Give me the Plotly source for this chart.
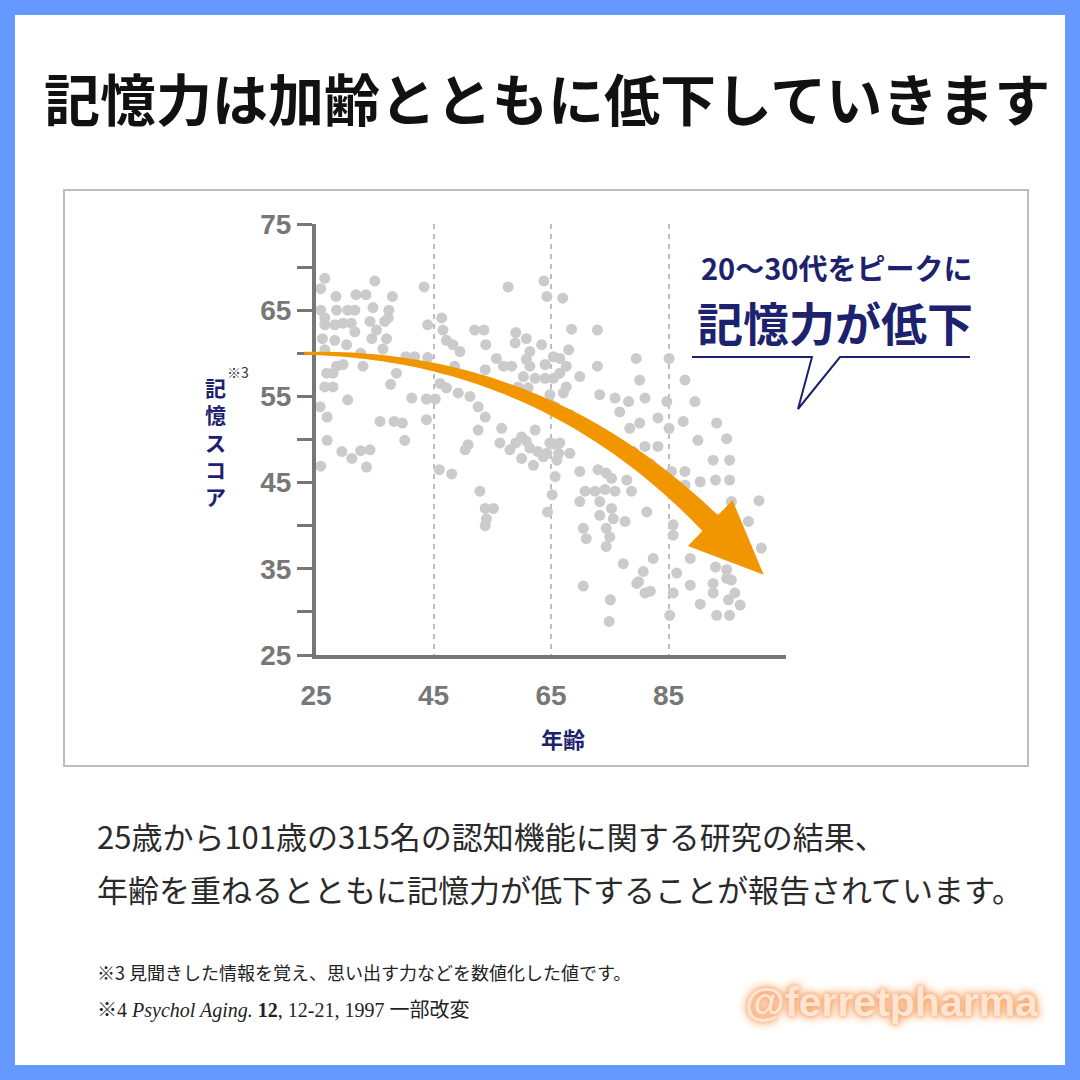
import numpy as np
import plotly.graph_objects as go

# ---------------- data ----------------
ages = [
    26.5, 25.8, 35.0, 43.4, 28.4, 31.8, 33.5, 38.0, 25.8, 28.5, 30.4, 31.6, 34.7, 37.4,
    26.5, 37.3, 26.5, 28.2, 29.6, 31.0, 34.2, 36.7, 44.0, 46.4, 31.6, 35.3, 46.6, 52.0,
    26.1, 28.2, 30.2, 34.5, 37.0, 47.2, 48.3, 26.5, 36.4, 49.5, 32.6, 40.3, 41.8, 44.0,
    29.6, 28.5, 33.0, 26.8, 27.9, 38.7, 48.6, 37.7, 26.5, 27.9, 46.1, 47.2, 49.2, 51.2,
    25.7, 30.4, 41.3, 43.8, 45.3, 52.6, 26.9, 35.9, 38.3, 39.7, 43.8, 52.6, 26.9, 40.1,
    29.4, 32.6, 34.2, 31.1, 50.4, 50.9, 33.6, 25.8, 46.0, 48.1, 52.9,
    57.7, 63.8, 64.3, 67.0, 53.6, 59.0, 60.8, 68.5, 72.9, 53.9, 58.9, 63.4, 68.0, 61.4,
    55.7, 60.8, 65.4, 66.5, 56.9, 58.3, 61.4, 64.0, 67.6, 72.9, 79.5, 53.8, 66.5, 60.3,
    62.3, 64.0, 65.4, 69.9, 80.1, 59.4, 61.1, 67.6, 64.8, 67.1, 60.8, 73.3, 75.9, 78.2,
    64.8, 65.7, 76.7, 53.8, 68.2, 80.1, 56.6, 62.3, 78.4, 60.0, 73.3, 56.3, 59.0, 60.8,
    64.8, 66.5, 58.0, 62.8, 64.3, 68.2, 79.0,
    60.0, 61.4, 62.0, 63.7, 65.4, 66.3, 66.0, 65.7, 69.9, 73.0, 74.4, 75.3, 77.9, 78.7,
    70.8, 72.5, 74.2, 75.9, 65.2, 69.9, 73.3, 75.3, 53.8, 55.2, 64.4, 73.3, 75.6, 77.6,
    54.0, 53.8, 70.5, 74.4, 71.0, 75.0, 74.4, 77.3, 79.6, 70.5, 75.1, 74.9,
    85.1, 87.8, 81.0, 84.7, 89.5, 83.2, 85.1, 87.5, 93.2, 90.0, 94.9, 81.0, 83.2, 92.6,
    95.4, 81.9, 85.5, 87.8, 90.4, 93.0, 95.4,
    87.8, 81.3, 85.8, 85.8, 93.8, 95.7, 98.6, 100.4, 100.8, 82.4, 88.7, 93.0, 94.9, 80.7,
    86.4, 94.9, 79.9, 88.7, 92.6, 95.7, 81.9, 81.0, 85.8, 92.6, 96.3, 95.2, 97.2, 90.4,
    85.2, 93.2, 95.4,
]
scores = [
    68.7, 67.5, 68.4, 67.7, 66.6, 66.8, 66.8, 66.6, 65.0, 65.0, 65.0, 65.0, 65.3, 65.0,
    64.1, 64.1, 63.3, 63.3, 63.5, 63.5, 63.7, 63.7, 63.3, 64.1, 62.5, 62.7, 62.7, 62.7,
    61.7, 61.5, 61.0, 61.7, 61.7, 61.5, 61.0, 60.4, 60.5, 60.2, 60.0, 59.6, 59.6, 59.5,
    58.7, 58.5, 58.5, 57.7, 57.7, 57.7, 58.5, 56.4, 56.1, 56.1, 56.5, 56.0, 55.4, 55.0,
    53.8, 54.6, 54.8, 54.7, 54.7, 53.8, 52.6, 52.1, 52.1, 51.9, 52.3, 51.1, 49.9, 49.9,
    48.6, 48.7, 48.8, 47.8, 48.8, 49.4, 46.8, 46.9, 46.5, 46.0, 44.0,
    67.7, 68.4, 66.6, 66.4, 62.7, 62.4, 61.7, 62.8, 62.7, 61.0, 61.2, 61.0, 60.4, 60.2,
    59.4, 59.3, 59.6, 59.4, 58.5, 58.5, 58.5, 58.7, 58.5, 58.5, 59.4, 58.1, 57.7, 57.3,
    57.1, 57.1, 57.1, 57.3, 56.9, 56.1, 56.0, 56.1, 55.2, 55.4, 55.0, 55.2, 54.8, 54.4,
    54.2, 53.8, 53.2, 52.6, 52.9, 51.9, 51.3, 51.1, 51.3, 50.3, 50.7, 49.6, 49.6, 49.8,
    49.6, 49.6, 48.8, 48.6, 48.4, 48.4, 48.6,
    47.8, 49.0, 47.0, 48.0, 49.5, 48.4, 47.6, 45.7, 46.3, 46.5, 46.1, 45.5, 45.3, 44.0,
    44.0, 44.0, 44.2, 44.0, 43.6, 42.8, 42.8, 42.0, 42.0, 42.0, 41.6, 41.2, 40.8, 40.5,
    40.8, 40.0, 39.7, 39.7, 38.5, 38.7, 37.6, 35.6, 33.3, 33.0, 31.4, 28.9,
    59.4, 56.9, 54.8, 54.4, 54.4, 52.5, 51.3, 52.1, 51.9, 49.9, 50.1, 49.2, 49.2, 47.6,
    47.6, 47.2, 46.3, 46.3, 45.1, 45.3, 45.3,
    44.7, 41.6, 40.1, 38.9, 40.8, 42.8, 40.5, 42.9, 37.4, 36.2, 36.2, 35.2, 34.9, 34.7,
    34.5, 33.9, 33.5, 33.1, 33.3, 33.7, 32.4, 32.2, 32.2, 32.2, 32.2, 31.4, 30.8, 30.9,
    29.6, 29.6, 29.6,
]

x_tickvals = [25, 45, 65, 85, 105]
x_ticktext = ["25", "45", "65", "85", ""]
y_tickvals = [25, 30, 35, 40, 45, 50, 55, 60, 65, 70, 75]
y_ticktext = ["25", "", "35", "", "45", "", "55", "", "65", "", "75"]

title_text = "記憶力は加齢とともに低下していきます"
x_title = "年齢"
y_title = "記憶スコア"
callout_sub = "20〜30代をピークに"
callout_main = "記憶力が低下"
desc_lines = [
    "25歳から101歳の315名の認知機能に関する研究の結果、",
    "年齢を重ねるとともに記憶力が低下することが報告されています。",
]
note1 = "※3 見聞きした情報を覚え、思い出す力などを数値化した値です。"
note2 = "※4 <i>Psychol Aging.</i> <b>12</b>, 12-21, 1997 一部改変"
watermark = "@ferretpharma"

# trend-arrow geometry (data units)
arrow_start = (23.0, 60.0)
arrow_ctrl = (63.2, 60.0)
arrow_base = (92.1, 40.3)
arrow_tip = (101.2, 34.3)

# ---------------- layout constants ----------------
W = H = 1080
X_RANGE = [25, 105]
Y_RANGE = [25, 75]
PX_L, PX_R = 316, 786
PX_B, PX_T = 655, 224

NAVY = "#1d226e"
GRAY_AX = "#777777"
DOT = "#cbcbcb"
ORANGE = "#f29600"
CJK = "Noto Sans CJK JP"


def d2px(x, y):
    px = PX_L + (x - X_RANGE[0]) / (X_RANGE[1] - X_RANGE[0]) * (PX_R - PX_L)
    py = PX_B - (y - Y_RANGE[0]) / (Y_RANGE[1] - Y_RANGE[0]) * (PX_B - PX_T)
    return np.array([px, py])


def px2paper(p):
    return p[0] / W, 1 - p[1] / H


# build arrow polygon in pixel space
S = d2px(*arrow_start)
C = d2px(*arrow_ctrl)
B = d2px(*arrow_base)
T = d2px(*arrow_tip)
w0, w1 = 3.0, 22.0
ts = np.linspace(0, 1, 60)
upper, lower = [], []
for t in ts:
    P = (1 - t) ** 2 * S + 2 * t * (1 - t) * C + t ** 2 * B
    d = 2 * (1 - t) * (C - S) + 2 * t * (B - C)
    d = d / np.linalg.norm(d)
    n = np.array([d[1], -d[0]])
    w = w0 + (w1 - w0) * t
    upper.append(P + n * w / 2)
    lower.append(P - n * w / 2)
hd = (T - B) / np.linalg.norm(T - B)
hn = np.array([hd[1], -hd[0]])
head_half = 32.0
U = B + hn * head_half
L = B - hn * head_half
pts = upper + [U, T, L] + lower[::-1]
path = "M " + " L ".join(f"{px2paper(p)[0]:.5f},{px2paper(p)[1]:.5f}" for p in pts) + " Z"

fig = go.Figure()
fig.add_trace(go.Scatter(
    x=ages, y=scores, mode="markers",
    marker=dict(size=11, color=DOT, line=dict(width=0)),
    cliponaxis=False, hoverinfo="skip", showlegend=False,
))

shapes = [
    dict(type="rect", xref="paper", yref="paper", x0=15 / W, x1=1065 / W, y0=1 - 1065 / H, y1=1 - 15 / H,
         fillcolor="white", line=dict(width=0), layer="below"),
    dict(type="rect", xref="paper", yref="paper", x0=64 / W, x1=1028 / W, y0=1 - 766 / H, y1=1 - 190 / H,
         fillcolor="rgba(0,0,0,0)", line=dict(color="#bdbdbd", width=2), layer="below"),
    dict(type="path", xref="paper", yref="paper", path=path, fillcolor=ORANGE,
         line=dict(width=0), layer="above"),
    dict(type="rect", xref="paper", yref="paper", x0=690 / W, x1=980 / W, y0=1 - 355 / H, y1=1 - 248 / H,
         fillcolor="white", line=dict(width=0), layer="above"),
    dict(type="path", xref="paper", yref="paper",
         path=f"M {692/W},{1-357/H} L {812/W},{1-357/H} L {798/W},{1-409/H} L {840/W},{1-357/H} L {970/W},{1-357/H}",
         line=dict(color=NAVY, width=2), layer="above"),
]


def ann(text, px, py, size, color, family=CJK, weight="normal", xanchor="center", **kw):
    return dict(text=text, x=px / W, y=1 - py / H, xref="paper", yref="paper", showarrow=False,
                xanchor=xanchor, yanchor="middle",
                font=dict(family=family, size=size, color=color, weight=weight, **kw))


annotations = [
    ann(title_text, 547, 97, 56, "#111111", weight="bold"),
    ann("<br>".join(list(y_title)), 215, 442, 21, NAVY, weight="bold"),
    ann("※3", 238, 372, 14, "#333333"),
    ann(x_title, 563, 738, 22, NAVY, weight="bold"),
    ann(callout_sub, 836, 267, 29, NAVY, weight="bold"),
    ann(callout_main, 835, 321, 46, NAVY, weight="bold"),
    ann(desc_lines[0], 95, 835, 31, "#2a2a2a", xanchor="left"),
    ann(desc_lines[1], 95, 888, 31, "#2a2a2a", xanchor="left"),
    ann(note1, 95, 972, 18, "#222222", xanchor="left"),
    ann(note2, 95, 1010, 20, "#222222", family="Liberation Serif, " + CJK, xanchor="left"),
    ann(watermark, 892, 1002, 41, "#fde4d3", family="Liberation Sans", weight="bold",
        shadow="0 0 4px #f7a469, 0 0 8px #f7a469, 0 0 12px #f9b27f"),
]

fig.update_layout(
    width=W, height=H, autosize=False,
    margin=dict(l=0, r=0, t=0, b=0, pad=0, autoexpand=False),
    paper_bgcolor="#6699ff", plot_bgcolor="rgba(0,0,0,0)",
    showlegend=False,
    xaxis=dict(
        domain=[PX_L / W, PX_R / W], range=X_RANGE, fixedrange=True, automargin=False,
        tickvals=x_tickvals, ticktext=x_ticktext, ticks="",
        showline=True, linecolor=GRAY_AX, linewidth=4,
        showgrid=True, gridcolor="#bdbdbd", gridwidth=2, griddash="5px,5px",
        zeroline=False, ticklabelstandoff=12,
        tickfont=dict(family="Liberation Sans", size=28, color=GRAY_AX, weight="bold"),
    ),
    yaxis=dict(
        domain=[1 - PX_B / H, 1 - PX_T / H], range=Y_RANGE, fixedrange=True, automargin=False,
        tickvals=y_tickvals, ticktext=y_ticktext, ticks="outside", ticklen=15, tickwidth=3,
        tickcolor=GRAY_AX, showline=True, linecolor=GRAY_AX, linewidth=4,
        showgrid=False, zeroline=False,
        tickfont=dict(family="Liberation Sans", size=28, color=GRAY_AX, weight="bold"),
    ),
    shapes=shapes,
    annotations=annotations,
)

fig.write_html(
    "out.html",
    config={"displayModeBar": False},
    post_script="document.body.style.margin='0';document.body.style.overflow='hidden';",
)
